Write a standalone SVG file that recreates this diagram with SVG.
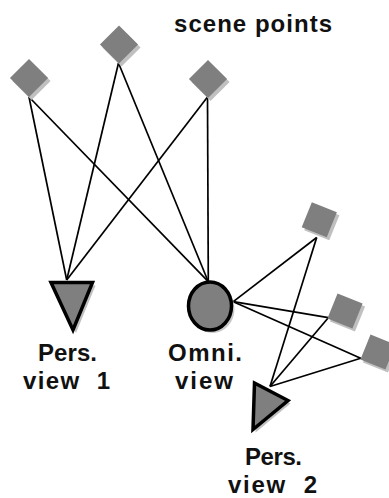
<svg xmlns="http://www.w3.org/2000/svg" width="389" height="498" viewBox="0 0 389 498">
<style>
.lbl{font-family:"Liberation Sans",Arial,sans-serif;font-weight:bold;font-size:24px;fill:#111;text-anchor:middle;white-space:pre}
.pt{fill:#7f7f7f}
.sh{fill:#c0c0c0}
.cam{fill:#7f7f7f;stroke:#000;stroke-width:3.5;stroke-linejoin:miter}
.edge{stroke:#000;stroke-width:1.7;fill:none}
</style>
<defs>
<rect id="sq" x="-13.5" y="-13.5" width="27" height="27"/>
</defs>
<rect width="389" height="498" fill="#fff"/>
<g id="connectors">
<line class="edge" x1="29" y1="97" x2="66.7" y2="280"/>
<line class="edge" x1="29" y1="97" x2="208.3" y2="281.7"/>
<line class="edge" x1="118.5" y1="63" x2="66.7" y2="280"/>
<line class="edge" x1="118.5" y1="63" x2="208.3" y2="281.7"/>
<line class="edge" x1="207.5" y1="97" x2="66.7" y2="280"/>
<line class="edge" x1="207.5" y1="97" x2="208.3" y2="281.7"/>
<line class="edge" x1="233.3" y1="301.7" x2="316.7" y2="237.5"/>
<line class="edge" x1="233.3" y1="301.7" x2="328.3" y2="317.7"/>
<line class="edge" x1="233.3" y1="301.7" x2="360.7" y2="358.3"/>
<line class="edge" x1="270" y1="386.5" x2="316.7" y2="237.5"/>
<line class="edge" x1="270" y1="386.5" x2="328.3" y2="317.7"/>
<line class="edge" x1="270" y1="386.5" x2="360.7" y2="358.3"/>
</g>
<g id="p1">
<use href="#sq" class="sh" transform="translate(31.5,81) rotate(45)"/>
<use href="#sq" class="pt" transform="translate(29,78) rotate(45)"/>
</g>
<g id="p2">
<use href="#sq" class="sh" transform="translate(121.5,47.5) rotate(45)"/>
<use href="#sq" class="pt" transform="translate(119,44.5) rotate(45)"/>
</g>
<g id="p3">
<use href="#sq" class="sh" transform="translate(210.5,82) rotate(45)"/>
<use href="#sq" class="pt" transform="translate(208,79) rotate(45)"/>
</g>
<g id="p4">
<use href="#sq" class="sh" transform="translate(321.8,222.7) rotate(22)"/>
<use href="#sq" class="pt" transform="translate(319.3,219.7) rotate(22)"/>
</g>
<g id="p5">
<use href="#sq" class="sh" transform="translate(347.5,314) rotate(22)"/>
<use href="#sq" class="pt" transform="translate(345,311) rotate(22)"/>
</g>
<g id="p6">
<use href="#sq" class="sh" transform="translate(380.5,355) rotate(22)"/>
<use href="#sq" class="pt" transform="translate(378,352) rotate(22)"/>
</g>
<text class="lbl" x="253" y="31.7" textLength="158">scene points</text>
<g id="pers1">
<polygon points="53.5,285.5 95.5,285.5 76,333" fill="#c0c0c0"/>
<polygon class="cam" points="51,282.5 92.5,282.5 73,330"/>
<text class="lbl" x="67.5" y="360.7" textLength="59">Pers.</text>
<text class="lbl" x="66.5" y="389.3" textLength="87">view  1</text>
</g>
<g id="omni">
<ellipse cx="212.5" cy="309" rx="22" ry="24" fill="#c8c8c8"/>
<ellipse class="cam" cx="210" cy="306" rx="21.5" ry="24"/>
<text class="lbl" x="205" y="360.7" textLength="74">Omni.</text>
<text class="lbl" x="204" y="389.3" textLength="58">view</text>
</g>
<g id="pers2">
<polygon points="257,386 290.5,403.5 255.5,432.5" fill="#c0c0c0"/>
<polygon class="cam" points="254.5,383 288,400.5 253,429.5"/>
<text class="lbl" x="273.5" y="465" textLength="57">Pers.</text>
<text class="lbl" x="272.5" y="492.5" textLength="89">view  2</text>
</g>
</svg>
